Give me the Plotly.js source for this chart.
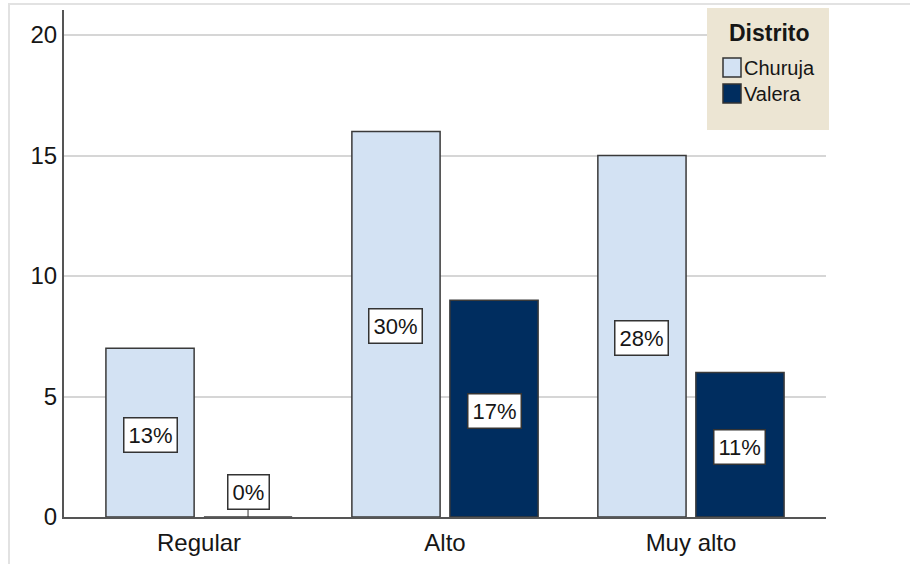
<!DOCTYPE html>
<html>
<head>
<meta charset="utf-8">
<script src="https://cdn.plot.ly/plotly-3.0.1.min.js"></script>
<style>
  html, body { margin: 0; padding: 0; background: #fff; }
  #wrap { position: relative; width: 910px; height: 564px; overflow: hidden; }
  #frame { position: absolute; left: 8px; top: 3px; width: 1000px; height: 1000px;
           border-left: 2px solid #e2e2e2; border-top: 2px solid #e2e2e2; pointer-events: none; }
  #chart { position: absolute; left: 0; top: 0; width: 910px; height: 564px; }
</style>
</head>
<body>
<div id="wrap">
  <div id="chart"></div>
  <div id="frame"></div>
</div>
<script>
// Counts per level, split by district
const categories = ["Regular", "Alto", "Muy alto"];
const seriesNames = ["Churuja", "Valera"];
const churuja = [7, 16, 15];
const valera = [0, 9, 6];
const legendTitle = "Distrito";
const yTicks = [0, 5, 10, 15, 20];

const colors = ["#D3E2F3", "#002D5F"];
const FONT = "Liberation Sans, Arial, sans-serif";
const INK = "#161616";

const W = 910, H = 564;
const margin = { l: 64, r: 84, t: 10, b: 47 };
const plotW = W - margin.l - margin.r;
const plotH = H - margin.t - margin.b;
const bargap = 0.203;
const bargroupgap = 0.1;

const allSeries = [churuja, valera];
const total = allSeries.flat().reduce((a, b) => a + b, 0);

const traces = allSeries.map((vals, i) => ({
  type: "bar",
  name: seriesNames[i],
  x: categories,
  y: vals,
  showlegend: false,
  marker: { color: colors[i], line: { color: "#3a3a3a", width: 1.5 } },
  hoverinfo: "x+y+name"
}));

// percentage boxes centred on each bar (share of all respondents)
const offset = (1 - bargap) / 4;
const annotations = [];
allSeries.forEach((vals, i) => {
  vals.forEach((v, j) => {
    const pct = Math.round(100 * v / total) + "%";
    const a = {
      x: j + (i === 0 ? -offset : offset),
      y: v / 2,
      yshift: -2,
      xref: "x", yref: "y",
      text: pct,
      showarrow: false,
      font: { family: FONT, size: 22, color: INK },
      bgcolor: "#ffffff",
      bordercolor: "#333333",
      borderwidth: 1.5,
      borderpad: 4
    };
    if (v === 0) {
      a.y = 0;
      a.yshift = 0;
      a.showarrow = true;
      a.arrowhead = 0;
      a.arrowwidth = 1;
      a.arrowcolor = "#333333";
      a.ax = 0;
      a.ay = -25;
    }
    annotations.push(a);
  });
});

// legend panel: background, title, swatches and names
const px2x = px => (px - margin.l) / plotW;
const px2y = py => (H - margin.b - py) / plotH;
const shapes = [{
  type: "rect", xref: "paper", yref: "paper", layer: "above",
  x0: px2x(707), x1: px2x(829), y0: px2y(130), y1: px2y(8),
  fillcolor: "#ECE5D3", line: { width: 0 }
}];
annotations.push({
  xref: "paper", yref: "paper",
  x: px2x(769), xanchor: "center",
  y: px2y(33), yanchor: "middle",
  text: "<b>" + legendTitle + "</b>",
  showarrow: false,
  font: { family: FONT, size: 23, color: INK }
});
seriesNames.forEach((name, i) => {
  const top = 58 + i * 26;
  shapes.push({
    type: "rect", xref: "paper", yref: "paper", layer: "above",
    x0: px2x(723), x1: px2x(741), y0: px2y(top + 19), y1: px2y(top),
    fillcolor: colors[i], line: { color: "#333333", width: 1.5 }
  });
  annotations.push({
    xref: "paper", yref: "paper",
    x: px2x(742), xanchor: "left",
    y: px2y(top + 10), yanchor: "middle",
    text: name,
    showarrow: false,
    font: { family: FONT, size: 20, color: INK }
  });
});

const layout = {
  width: W, height: H,
  margin: margin,
  paper_bgcolor: "rgba(0,0,0,0)",
  plot_bgcolor: "#ffffff",
  barmode: "group",
  bargap: bargap,
  bargroupgap: bargroupgap,
  showlegend: false,
  xaxis: {
    type: "category",
    range: [-0.549, 2.549],
    showline: true, linecolor: "#555", linewidth: 2,
    showgrid: false, zeroline: false, ticks: "",
    ticklabelstandoff: 3,
    tickfont: { family: FONT, size: 24, color: INK },
    fixedrange: true
  },
  yaxis: {
    range: [0, 21.04],
    tickvals: yTicks,
    showline: true, linecolor: "#555", linewidth: 2,
    showgrid: true, gridcolor: "#d6d6d6", gridwidth: 2,
    zeroline: false, ticks: "",
    ticklabelstandoff: 0,
    tickfont: { family: FONT, size: 24, color: INK },
    fixedrange: true
  },
  annotations: annotations,
  shapes: shapes
};

Plotly.newPlot("chart", traces, layout, { displayModeBar: false, staticPlot: true });
</script>
</body>
</html>
